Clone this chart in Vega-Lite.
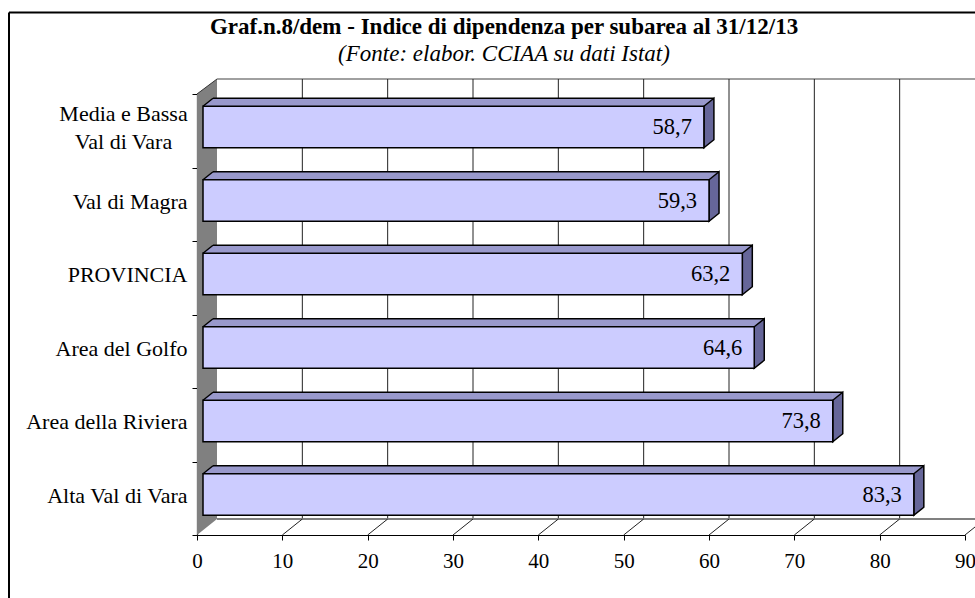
{
  "$schema": "https://vega.github.io/schema/vega-lite/v6.json",
  "width": 768,
  "height": 441,
  "autosize": {"type": "none"},
  "padding": {"left": 197, "top": 94, "right": 10, "bottom": 63},
  "background": "white",
  "config": {
    "view": {"stroke": null},
    "font": "Liberation Serif",
    "locale": {"number": {"decimal": ",", "thousands": ".", "grouping": [3], "currency": ["", " €"]}},
    "axisX": {"tickCount": 10, "grid": false, "domainColor": "black", "domainWidth": 1.2, "tickColor": "black", "tickSize": 5, "labelFont": "Liberation Serif", "labelFontSize": 21, "labelColor": "black", "labelPadding": 10, "labelFlush": false, "labelOverlap": false, "labelBound": false, "zindex": 1, "title": null},
    "axisY": {"grid": false, "domainColor": "black", "domainWidth": 1.2, "tickColor": "black", "tickSize": 5, "labelFont": "Liberation Serif", "labelFontSize": 22, "labelColor": "black", "labelLineHeight": 28, "labelLimit": 300, "zindex": 1, "title": null}
  },
  "datasets": {
    "main": [
      {"area": "Media e Bassa Val di Vara", "v": 58.7},
      {"area": "Val di Magra", "v": 59.3},
      {"area": "PROVINCIA", "v": 63.2},
      {"area": "Area del Golfo", "v": 64.6},
      {"area": "Area della Riviera", "v": 73.8},
      {"area": "Alta Val di Vara", "v": 83.3}
    ],
    "grid": [{"t": 10}, {"t": 20}, {"t": 30}, {"t": 40}, {"t": 50}, {"t": 60}, {"t": 70}, {"t": 80}],
    "floor": [{"t": 10}, {"t": 20}, {"t": 30}, {"t": 40}, {"t": 50}, {"t": 60}, {"t": 70}, {"t": 80}, {"t": 90}],
    "titles": [
      {"txt": "Graf.n.8/dem - Indice di dipendenza per subarea al 31/12/13", "kind": "title"},
      {"txt": "(Fonte: elabor. CCIAA su dati Istat)", "kind": "subtitle"}
    ],
    "one": [{}]
  },
  "layer": [
    {
      "data": {"name": "one"},
      "mark": {"type": "rule", "color": "black", "strokeWidth": 2},
      "encoding": {"x": {"value": -188}, "x2": {"value": 778}, "y": {"value": -81.5}}
    },
    {
      "data": {"name": "one"},
      "mark": {"type": "rule", "color": "black", "strokeWidth": 2},
      "encoding": {"x": {"value": -188}, "y": {"value": -81.5}, "y2": {"value": 504}}
    },
    {
      "data": {"name": "titles"},
      "transform": [{"filter": "datum.kind == 'title'"}],
      "mark": {"type": "text", "font": "Liberation Serif", "fontSize": 23, "fontWeight": "bold", "color": "black", "align": "center", "baseline": "alphabetic"},
      "encoding": {"x": {"value": 307}, "y": {"value": -60}, "text": {"field": "txt"}}
    },
    {
      "data": {"name": "titles"},
      "transform": [{"filter": "datum.kind == 'subtitle'"}],
      "mark": {"type": "text", "font": "Liberation Serif", "fontSize": 23, "fontStyle": "italic", "color": "black", "align": "center", "baseline": "alphabetic"},
      "encoding": {"x": {"value": 307}, "y": {"value": -33}, "text": {"field": "txt"}}
    },
    {
      "data": {"name": "one"},
      "mark": {"type": "rule", "color": "#808080", "strokeWidth": 1.5},
      "encoding": {"x": {"value": 20}, "x2": {"value": 778}, "y": {"value": -15}}
    },
    {
      "data": {"name": "grid"},
      "mark": {"type": "rule", "color": "#222222", "strokeWidth": 1, "xOffset": 20},
      "encoding": {
        "x": {"field": "t", "type": "quantitative", "scale": {"domain": [0, 90]}, "title": null},
        "y": {"value": -15},
        "y2": {"value": 425}
      }
    },
    {
      "data": {"name": "one"},
      "mark": {"type": "rule", "color": "#808080", "strokeWidth": 2},
      "encoding": {"x": {"value": 20}, "x2": {"value": 778}, "y": {"value": 425}}
    },
    {
      "data": {"name": "floor"},
      "mark": {"type": "point", "shape": "M0,0L20,-16", "size": 4, "filled": false, "stroke": "#222222", "strokeWidth": 1, "opacity": 1},
      "encoding": {
        "x": {"field": "t", "type": "quantitative", "title": null},
        "y": {"value": 441}
      }
    },
    {
      "data": {"name": "one"},
      "mark": {"type": "point", "shape": "M0,0L20,-15L20,425L0,441Z", "size": 4, "filled": true, "fill": "#808080", "strokeWidth": 0, "opacity": 1},
      "encoding": {"x": {"value": 0}, "y": {"value": 0}}
    },
    {
      "data": {"name": "one"},
      "mark": {"type": "point", "shape": "M0,0L20,-15", "size": 4, "filled": false, "stroke": "#333333", "strokeWidth": 1, "opacity": 1},
      "encoding": {"x": {"value": 0}, "y": {"value": 0}}
    },
    {
      "data": {"name": "main"},
      "layer": [
        {
          "mark": {"type": "bar", "fill": "#9999CC", "height": 8.2, "yOffset": -28.5, "xOffset": 6},
          "encoding": {"x": {"field": "v", "type": "quantitative", "stack": null, "title": null}, "x2": {"value": 16}, "y": {"field": "area", "type": "nominal", "sort": null, "title": null}}
        },
        {
          "mark": {"type": "point", "shape": "M6,-24.5L16,-32.5L16.6,-32.5L16.6,-24.5Z", "size": 4, "filled": true, "fill": "#9999CC", "strokeWidth": 0, "opacity": 1},
          "encoding": {"x": {"value": 0}, "y": {"field": "area", "type": "nominal", "sort": null, "title": null}}
        },
        {
          "mark": {"type": "point", "shape": "M5.4,-32.5L16,-32.5L6,-24.5L5.4,-24.5Z", "size": 4, "filled": true, "fill": "#9999CC", "strokeWidth": 0, "opacity": 1},
          "encoding": {"x": {"field": "v", "type": "quantitative", "title": null}, "y": {"field": "area", "type": "nominal", "sort": null, "title": null}}
        },
        {
          "mark": {"type": "point", "shape": "M6,-24.5L16,-32.5L16,9L6,17Z", "size": 4, "filled": true, "fill": "#666699", "stroke": "black", "strokeWidth": 1.5, "opacity": 1},
          "encoding": {"x": {"field": "v", "type": "quantitative", "title": null}, "y": {"field": "area", "type": "nominal", "sort": null, "title": null}}
        },
        {
          "mark": {"type": "rule", "color": "black", "strokeWidth": 1.5, "xOffset": 16, "yOffset": -32.5},
          "encoding": {"x": {"field": "v", "type": "quantitative", "title": null}, "x2": {"value": 16}, "y": {"field": "area", "type": "nominal", "sort": null, "title": null}}
        },
        {
          "mark": {"type": "point", "shape": "M6,-24.5L16,-32.5", "size": 4, "filled": false, "stroke": "black", "strokeWidth": 1.5, "opacity": 1},
          "encoding": {"x": {"value": 0}, "y": {"field": "area", "type": "nominal", "sort": null, "title": null}}
        },
        {
          "mark": {"type": "bar", "fill": "#CCCCFF", "stroke": "black", "strokeWidth": 1.5, "height": 41.5, "yOffset": -3.75, "xOffset": 6},
          "encoding": {
            "x": {
              "field": "v", "type": "quantitative", "stack": null, "title": null,
              "scale": {"domain": [0, 90]},
              "axis": {"values": [0, 10, 20, 30, 40, 50, 60, 70, 80, 90], "labelFlush": false, "title": null}
            },
            "x2": {"value": 6},
            "y": {
              "field": "area", "type": "nominal", "sort": null, "title": null,
              "scale": {"paddingInner": 0, "paddingOuter": 0},
              "axis": {
                "tickBand": "extent", "title": null,
                "labelExpr": "datum.value == 'Media e Bassa Val di Vara' ? ['Media e Bassa', 'Val di Vara'] : datum.label",
                "labelAlign": {"condition": {"test": "datum.value == 'Media e Bassa Val di Vara'", "value": "center"}, "value": "right"},
                "labelPadding": {"condition": {"test": "datum.value == 'Media e Bassa Val di Vara'", "value": 69}, "value": 5},
                "labelOffset": {"condition": {"test": "datum.value == 'Media e Bassa Val di Vara'", "value": -17}, "value": -3}
              }
            }
          }
        },
        {
          "mark": {"type": "text", "align": "right", "baseline": "middle", "font": "Liberation Serif", "fontSize": 22.5, "color": "black", "xOffset": -6, "yOffset": -3.75},
          "encoding": {
            "x": {"field": "v", "type": "quantitative", "title": null},
            "y": {"field": "area", "type": "nominal", "sort": null, "title": null},
            "text": {"field": "v", "type": "quantitative", "format": ".1f"}
          }
        }
      ]
    }
  ]
}
